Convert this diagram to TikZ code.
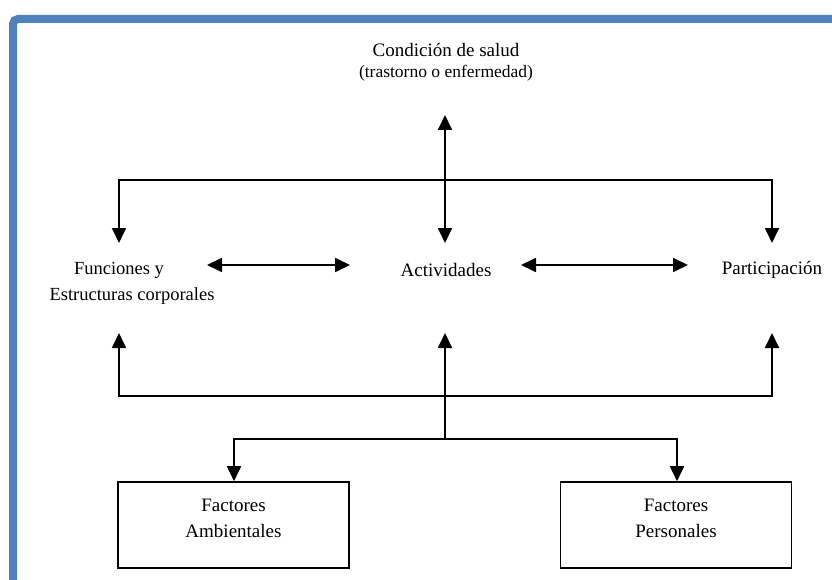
\documentclass[tikz,border=0pt]{standalone}
\usepackage{fontspec}
\setmainfont{Liberation Serif}
\usetikzlibrary{arrows.meta}
\definecolor{framebl}{HTML}{4F81BD}
\begin{document}
\begin{tikzpicture}[x=1pt,y=-1pt,
  lbl/.style={inner sep=0pt,align=center,font=\fontsize{19}{26}\selectfont},
  sub/.style={inner sep=0pt,align=center,font=\fontsize{17.5}{20}\selectfont},
  conn/.style={line width=1.8pt},
  tip/.style={-{Triangle[length=15pt,width=14pt]}},
  dtip/.style={{Triangle[length=15pt,width=14pt]}-{Triangle[length=15pt,width=14pt]}},
  factbox/.style={draw,line width=1.6pt,minimum width=231pt,minimum height=86pt,inner sep=0pt,align=center,font=\fontsize{19}{26}\selectfont}]
\useasboundingbox (0,0) rectangle (832,580);
\fill[white] (0,0) rectangle (832,580);
% frame
\draw[framebl,line width=8pt,rounded corners=5pt] (13,590) -- (13,19) -- (840,19);
% nodes
\node[lbl] (cond) at (446,50) {Condición de salud};
\node[sub] (sub) at (446,73) {(trastorno o enfermedad)};
\node[lbl,font=\fontsize{18.5}{26}\selectfont] (func) at (132,283) {Funciones y\hspace*{26pt}\\Estructuras corporales};
\node[lbl] (act) at (446,270) {Actividades};
\node[lbl] (part) at (772,270) {Participación};
\node[factbox] (amb) at (233.5,525) {Factores\\Ambientales\\[-12pt]\mbox{}};
\node[factbox] (pers) at (676,525) {Factores\\Personales\\[-12pt]\mbox{}};
% coordinates
\coordinate (ctop) at (445,115);
\coordinate (cbot) at (445,243);
\coordinate (tl) at (119,180);
\coordinate (tr) at (772,180);
\coordinate (ftip) at (119,243);
\coordinate (ptip) at (772,243);
\coordinate (h1a) at (207,265);
\coordinate (h1b) at (350,265);
\coordinate (h2a) at (521,265);
\coordinate (h2b) at (688,265);
\coordinate (bl) at (119,396);
\coordinate (br) at (772,396);
\coordinate (fup) at (119,333);
\coordinate (aup) at (445,333);
\coordinate (pup) at (772,333);
\coordinate (mid) at (445,439);
\coordinate (ml) at (234,439);
\coordinate (mr) at (677,439);
% connectors
\draw[conn,dtip] (ctop) -- (cbot);
\draw[conn,tip] (tr) -- (tl) -- (ftip);
\draw[conn,tip] (tl) -- (tr) -- (ptip);
\draw[conn,dtip] (h1a) -- (h1b);
\draw[conn,dtip] (h2a) -- (h2b);
\draw[conn,tip] (br) -- (bl) -- (fup);
\draw[conn,tip] (bl) -- (br) -- (pup);
\draw[conn,tip] (mid) -- (aup);
\draw[conn,tip] (mr) -- (ml) -- (ml |- amb.north);
\draw[conn,tip] (ml) -- (mr) -- (mr |- pers.north);
\end{tikzpicture}
\end{document}
